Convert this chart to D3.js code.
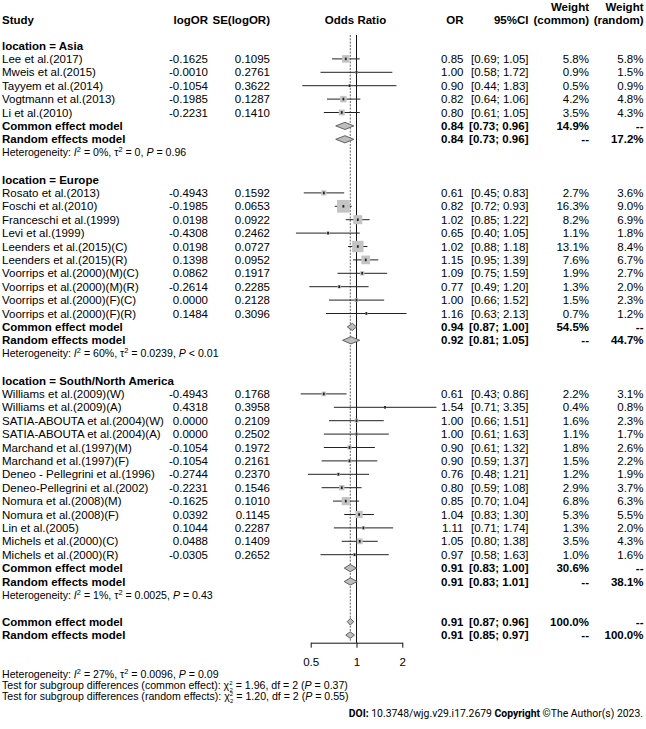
<!DOCTYPE html>
<html>
<head>
<meta charset="utf-8">
<script src="https://cdn.jsdelivr.net/npm/d3@7"></script>
<style>
  body { margin: 0; background: #fff; }
  svg { font-family: "Liberation Sans", Arial, sans-serif; }
  .narrow { font-family: "Liberation Sans Narrow", "Arial Narrow", "Liberation Sans", sans-serif; }
</style>
</head>
<body>
<div id="app"></div>
<script>
// ---- data ----
const groupNames = ["Asia", "Europe", "South/North America"];

const studies = [
  "Lee et al.(2017)", "Mweis et al.(2015)", "Tayyem et al.(2014)", "Vogtmann et al.(2013)", "Li et al.(2010)",
  "Rosato et al.(2013)", "Foschi et al.(2010)", "Franceschi et al.(1999)", "Levi et al.(1999)",
  "Leenders et al.(2015)(C)", "Leenders et al.(2015)(R)", "Voorrips et al.(2000)(M)(C)",
  "Voorrips et al.(2000)(M)(R)", "Voorrips et al.(2000)(F)(C)", "Voorrips et al.(2000)(F)(R)",
  "Williams et al.(2009)(W)", "Williams et al.(2009)(A)", "SATIA-ABOUTA et al.(2004)(W)",
  "SATIA-ABOUTA et al.(2004)(A)", "Marchand et al.(1997)(M)", "Marchand et al.(1997)(F)",
  "Deneo \u2010 Pellegrini et al.(1996)", "Deneo-Pellegrini et al.(2002)", "Nomura et al.(2008)(M)",
  "Nomura et al.(2008)(F)", "Lin et al.(2005)", "Michels et al.(2000)(C)", "Michels et al.(2000)(R)"
];
const studyGroup = [0, 0, 0, 0, 0, 1, 1, 1, 1, 1, 1, 1, 1, 1, 1, 2, 2, 2, 2, 2, 2, 2, 2, 2, 2, 2, 2, 2];

const logOR = ["-0.1625", "-0.0010", "-0.1054", "-0.1985", "-0.2231",
  "-0.4943", "-0.1985", "0.0198", "-0.4308", "0.0198", "0.1398", "0.0862", "-0.2614", "0.0000", "0.1484",
  "-0.4943", "0.4318", "0.0000", "0.0000", "-0.1054", "-0.1054", "-0.2744", "-0.2231", "-0.1625",
  "0.0392", "0.1044", "0.0488", "-0.0305"];
const seLogOR = ["0.1095", "0.2761", "0.3622", "0.1287", "0.1410",
  "0.1592", "0.0653", "0.0922", "0.2462", "0.0727", "0.0952", "0.1917", "0.2285", "0.2128", "0.3096",
  "0.1768", "0.3958", "0.2109", "0.2502", "0.1972", "0.2161", "0.2370", "0.1546", "0.1010",
  "0.1145", "0.2287", "0.1409", "0.2652"];

const orEst = [0.85, 1.00, 0.90, 0.82, 0.80,
  0.61, 0.82, 1.02, 0.65, 1.02, 1.15, 1.09, 0.77, 1.00, 1.16,
  0.61, 1.54, 1.00, 1.00, 0.90, 0.90, 0.76, 0.80, 0.85, 1.04, 1.11, 1.05, 0.97];
const ciLow = [0.69, 0.58, 0.44, 0.64, 0.61,
  0.45, 0.72, 0.85, 0.40, 0.88, 0.95, 0.75, 0.49, 0.66, 0.63,
  0.43, 0.71, 0.66, 0.61, 0.61, 0.59, 0.48, 0.59, 0.70, 0.83, 0.71, 0.80, 0.58];
const ciHigh = [1.05, 1.72, 1.83, 1.06, 1.05,
  0.83, 0.93, 1.22, 1.05, 1.18, 1.39, 1.59, 1.20, 1.52, 2.13,
  0.86, 3.35, 1.51, 1.63, 1.32, 1.37, 1.21, 1.08, 1.04, 1.30, 1.74, 1.38, 1.63];
const wCommon = [5.8, 0.9, 0.5, 4.2, 3.5,
  2.7, 16.3, 8.2, 1.1, 13.1, 7.6, 1.9, 1.3, 1.5, 0.7,
  2.2, 0.4, 1.6, 1.1, 1.8, 1.5, 1.2, 2.9, 6.8, 5.3, 1.3, 3.5, 1.0];
const wRandom = [5.8, 1.5, 0.9, 4.8, 4.3,
  3.6, 9.0, 6.9, 1.8, 8.4, 6.7, 2.7, 2.0, 2.3, 1.2,
  3.1, 0.8, 2.3, 1.7, 2.6, 2.2, 1.9, 3.7, 6.3, 5.5, 2.0, 4.3, 1.6];

// subgroup summaries: [estimate, lower, upper]
const groupCommon = [[0.84, 0.73, 0.96], [0.94, 0.87, 1.00], [0.91, 0.83, 1.00]];
const groupRandom = [[0.84, 0.73, 0.96], [0.92, 0.81, 1.05], [0.91, 0.83, 1.01]];
const groupWCommon = [14.9, 54.5, 30.6];
const groupWRandom = [17.2, 44.7, 38.1];
const groupI2 = ["0%", "60%", "1%"];
const groupTau2 = ["0", "0.0239", "0.0025"];
const groupP = ["= 0.96", "< 0.01", "= 0.43"];

const overallCommon = [0.91, 0.87, 0.96];
const overallRandom = [0.91, 0.85, 0.97];

const xTicks = [0.5, 1, 2];

// ---- layout ----
const W = 646, H = 729;
const svg = d3.select("#app").append("svg")
  .attr("width", W).attr("height", H)
  .attr("viewBox", `0 0 ${W} ${H}`);

const FS = 11.5;
const x = d3.scaleLog().domain([0.5, 2]).range([310.7, 402.3]);
const rowY = d3.scaleLinear().domain([0, 1]).range([45.5, 58.9]);
const sq = d3.scaleSqrt().domain([0, 16.3]).range([0, 12.7]);
const fmt2 = d3.format(".2f");
const pct = (d) => d3.format(".1f")(d) + "%";
const ci = (lo, hi) => `[${fmt2(lo)}; ${fmt2(hi)}]`;

const col = { study: 2, logOR: 208, se: 270, or: 463.5, ci: 528.5, wc: 589, wr: 643.5 };

function txt(px, py, s, anchor, bold, size, cls) {
  return svg.append("text")
    .attr("x", px).attr("y", py).attr("dy", "0.35em")
    .attr("text-anchor", anchor || "start")
    .attr("font-size", size || FS)
    .attr("font-weight", bold ? "bold" : null)
    .attr("class", cls || null)
    .attr("fill", "#000")
    .text(s);
}

// header
txt(col.study, 20, "Study", "start", true);
txt(col.logOR, 20, "logOR", "end", true);
txt(col.se, 20, "SE(logOR)", "end", true);
txt(x(1) - 1, 20, "Odds Ratio", "middle", true);
txt(col.or, 20, "OR", "end", true);
txt(col.ci, 20, "95%CI", "end", true);
txt(col.wc, 6.5, "Weight", "end", true);
txt(col.wr, 6.5, "Weight", "end", true);
txt(col.wc, 20, "(common)", "end", true);
txt(col.wr, 20, "(random)", "end", true);

// build row list
const rows = [];
let r = 0;
groupNames.forEach((g, gi) => {
  rows.push({ type: "label", gi, r: r++ });
  studies.forEach((s, i) => { if (studyGroup[i] === gi) rows.push({ type: "study", i, r: r++ }); });
  rows.push({ type: "common", gi, r: r++ });
  rows.push({ type: "random", gi, r: r++ });
  rows.push({ type: "het", gi, r: r++ });
  r += 1;
});
rows.push({ type: "allCommon", r: r++ });
rows.push({ type: "allRandom", r: r++ });

const lastY = rowY(r - 1);
const axisY = lastY + 7.6;

// reference lines
const lines = svg.append("g");
lines.append("line")
  .attr("x1", x(overallCommon[0])).attr("x2", x(overallCommon[0]))
  .attr("y1", 35).attr("y2", axisY - 2)
  .attr("stroke", "#666").attr("stroke-width", 1).attr("stroke-dasharray", "2,1.3");
lines.append("line")
  .attr("x1", x(1)).attr("x2", x(1))
  .attr("y1", 35).attr("y2", axisY)
  .attr("stroke", "#111").attr("stroke-width", 1);

function diamond(est, lo, hi, yy, h) {
  const pts = [[x(lo), yy], [x(est), yy - h], [x(hi), yy], [x(est), yy + h]];
  svg.append("path")
    .attr("d", d3.line()(pts) + "Z")
    .attr("fill", "#bdbdbd").attr("stroke", "#555").attr("stroke-width", 0.9);
}

function hetText(yy, i2, tau2, p, size) {
  const t = svg.append("text").attr("class", "narrow")
    .attr("x", col.study).attr("y", yy).attr("dy", "0.35em")
    .attr("font-size", size).attr("fill", "#000");
  t.append("tspan").text("Heterogeneity: ");
  t.append("tspan").attr("font-style", "italic").text("I");
  t.append("tspan").attr("dy", -4).attr("font-size", size * 0.7).text("2");
  t.append("tspan").attr("dy", 4).text(` = ${i2}, \u03c4`);
  t.append("tspan").attr("dy", -4).attr("font-size", size * 0.7).text("2");
  t.append("tspan").attr("dy", 4).text(` = ${tau2}, `);
  t.append("tspan").attr("font-style", "italic").text("P");
  t.append("tspan").text(` ${p}`);
}

const marks = svg.append("g");
rows.forEach((row) => {
  const yy = rowY(row.r);
  if (row.type === "label") {
    txt(col.study, yy, `location = ${groupNames[row.gi]}`, "start", true);
  } else if (row.type === "study") {
    const i = row.i;
    txt(col.study, yy, studies[i]);
    txt(col.logOR, yy, logOR[i], "end");
    txt(col.se, yy, seLogOR[i], "end");
    txt(col.or, yy, fmt2(orEst[i]), "end");
    txt(col.ci, yy, ci(ciLow[i], ciHigh[i]), "end");
    txt(col.wc, yy, pct(wCommon[i]), "end");
    txt(col.wr, yy, pct(wRandom[i]), "end");
    marks.append("line")
      .attr("x1", x(ciLow[i])).attr("x2", x(ciHigh[i]))
      .attr("y1", yy).attr("y2", yy)
      .attr("stroke", "#222").attr("stroke-width", 1);
    const s = sq(wCommon[i]);
    marks.append("rect")
      .attr("x", x(orEst[i]) - s / 2).attr("y", yy - s / 2)
      .attr("width", s).attr("height", s)
      .attr("fill", "#c4c4c4");
    marks.append("rect")
      .attr("x", x(orEst[i]) - 0.9).attr("y", yy - 1.3)
      .attr("width", 1.8).attr("height", 2.6)
      .attr("fill", "#222");
  } else if (row.type === "common" || row.type === "random") {
    const isC = row.type === "common";
    const v = isC ? groupCommon[row.gi] : groupRandom[row.gi];
    txt(col.study, yy, isC ? "Common effect model" : "Random effects model", "start", true);
    txt(col.or, yy, fmt2(v[0]), "end", true);
    txt(col.ci, yy, ci(v[1], v[2]), "end", true);
    txt(col.wc, yy, isC ? pct(groupWCommon[row.gi]) : "--", "end", true);
    txt(col.wr, yy, isC ? "--" : pct(groupWRandom[row.gi]), "end", true);
    diamond(v[0], v[1], v[2], yy, 3.6);
  } else if (row.type === "het") {
    hetText(yy, groupI2[row.gi], groupTau2[row.gi], groupP[row.gi], 10.6);
  } else {
    const isC = row.type === "allCommon";
    const v = isC ? overallCommon : overallRandom;
    txt(col.study, yy, isC ? "Common effect model" : "Random effects model", "start", true);
    txt(col.or, yy, fmt2(v[0]), "end", true);
    txt(col.ci, yy, ci(v[1], v[2]), "end", true);
    txt(col.wc, yy, isC ? "100.0%" : "--", "end", true);
    txt(col.wr, yy, isC ? "--" : "100.0%", "end", true);
    diamond(v[0], v[1], v[2], yy, 3.3);
  }
});

// x axis
const axis = d3.axisBottom(x).tickValues(xTicks).tickFormat(d3.format("")).tickSize(5).tickSizeOuter(0).tickPadding(10);
const ax = svg.append("g").attr("transform", `translate(0,${axisY})`).call(axis);
ax.select(".domain").attr("stroke", "#111");
ax.selectAll(".tick line").attr("stroke", "#111");
ax.selectAll("text").attr("font-size", FS).attr("font-family", '"Liberation Sans", Arial, sans-serif').attr("fill", "#000");

// footer statistics
hetText(674.3, "27%", "0.0096", "= 0.09", 10.6);

function testLine(yy, kind, chi, p) {
  const t = svg.append("text").attr("class", "narrow")
    .attr("x", col.study).attr("y", yy).attr("dy", "0.35em")
    .attr("font-size", 10.6).attr("fill", "#000");
  t.append("tspan").text(`Test for subgroup differences (${kind}): \u03c7`);
  t.append("tspan").attr("dy", -3.6).attr("font-size", 6).text("2");
  t.append("tspan").attr("dx", -3.1).attr("dy", 6.8).attr("font-size", 6).text("2");
  t.append("tspan").attr("dy", -3.2).text(` = ${chi}, df = 2 (`);
  t.append("tspan").attr("font-style", "italic").text("P");
  t.append("tspan").text(` = ${p})`);
}
testLine(684.9, "common effect", "1.96", "0.37");
testLine(696.3, "random effects", "1.20", "0.55");

// source line
const src = svg.append("text")
  .attr("x", 643).attr("y", 713).attr("dy", "0.35em")
  .attr("text-anchor", "end")
  .attr("font-family", 'Roboto, "Open Sans", sans-serif')
  .attr("font-size", 10.4).attr("fill", "#000");
src.append("tspan").attr("font-weight", "bold").text("DOI:");
src.append("tspan").text(" 10.3748/wjg.v29.i17.2679  ");
src.append("tspan").attr("font-weight", "bold").text("Copyright");
src.append("tspan").text(" \u00a9The Author(s) 2023.");
</script>
</body>
</html>
